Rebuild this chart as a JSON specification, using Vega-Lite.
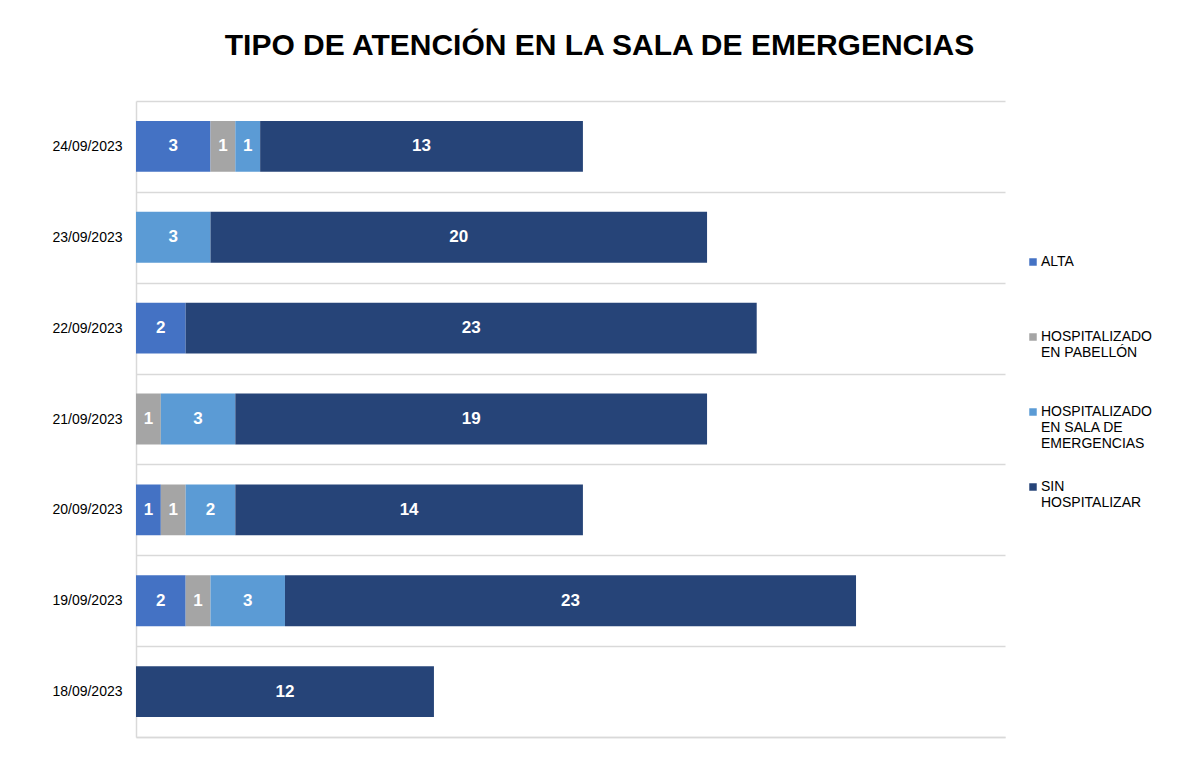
{
  "$schema": "https://vega.github.io/schema/vega-lite/v6.json",
  "width": 869,
  "height": 636,
  "autosize": {"type": "none"},
  "padding": {"left": 136, "top": 101, "right": 178, "bottom": 23},
  "background": "white",
  "title": {
    "text": "TIPO DE ATENCIÓN EN LA SALA DE EMERGENCIAS",
    "font": "Liberation Sans",
    "fontSize": 30,
    "fontWeight": "bold",
    "color": "#000000",
    "anchor": "middle",
    "dx": 29,
    "offset": 33
  },
  "data": {
    "values": [
      {"fecha": "24/09/2023", "tipo": "ALTA", "n": 3},
      {"fecha": "24/09/2023", "tipo": "HOSPITALIZADO EN PABELLÓN", "n": 1},
      {"fecha": "24/09/2023", "tipo": "HOSPITALIZADO EN SALA DE EMERGENCIAS", "n": 1},
      {"fecha": "24/09/2023", "tipo": "SIN HOSPITALIZAR", "n": 13},
      {"fecha": "23/09/2023", "tipo": "HOSPITALIZADO EN SALA DE EMERGENCIAS", "n": 3},
      {"fecha": "23/09/2023", "tipo": "SIN HOSPITALIZAR", "n": 20},
      {"fecha": "22/09/2023", "tipo": "ALTA", "n": 2},
      {"fecha": "22/09/2023", "tipo": "SIN HOSPITALIZAR", "n": 23},
      {"fecha": "21/09/2023", "tipo": "HOSPITALIZADO EN PABELLÓN", "n": 1},
      {"fecha": "21/09/2023", "tipo": "HOSPITALIZADO EN SALA DE EMERGENCIAS", "n": 3},
      {"fecha": "21/09/2023", "tipo": "SIN HOSPITALIZAR", "n": 19},
      {"fecha": "20/09/2023", "tipo": "ALTA", "n": 1},
      {"fecha": "20/09/2023", "tipo": "HOSPITALIZADO EN PABELLÓN", "n": 1},
      {"fecha": "20/09/2023", "tipo": "HOSPITALIZADO EN SALA DE EMERGENCIAS", "n": 2},
      {"fecha": "20/09/2023", "tipo": "SIN HOSPITALIZAR", "n": 14},
      {"fecha": "19/09/2023", "tipo": "ALTA", "n": 2},
      {"fecha": "19/09/2023", "tipo": "HOSPITALIZADO EN PABELLÓN", "n": 1},
      {"fecha": "19/09/2023", "tipo": "HOSPITALIZADO EN SALA DE EMERGENCIAS", "n": 3},
      {"fecha": "19/09/2023", "tipo": "SIN HOSPITALIZAR", "n": 23},
      {"fecha": "18/09/2023", "tipo": "SIN HOSPITALIZAR", "n": 12}
    ]
  },
  "encoding": {
    "y": {
      "field": "fecha",
      "type": "nominal",
      "sort": ["24/09/2023", "23/09/2023", "22/09/2023", "21/09/2023", "20/09/2023", "19/09/2023", "18/09/2023"],
      "title": null,
      "scale": {"paddingInner": 0, "paddingOuter": 0},
      "axis": {
        "domainColor": "#d9d9d9",
        "domainWidth": 1.5,
        "ticks": false,
        "tickSize": 0,
        "grid": true,
        "gridColor": "#d9d9d9",
        "gridWidth": 1.5,
        "tickBand": "extent",
        "labelFont": "Liberation Sans",
        "labelFontSize": 14,
        "labelColor": "#000000",
        "labelPadding": 14
      }
    }
  },
  "layer": [
    {
      "mark": {"type": "bar", "height": {"band": 0.56}},
      "encoding": {
        "x": {
          "field": "n",
          "type": "quantitative",
          "stack": "zero",
          "scale": {"domain": [0, 35], "nice": false},
          "axis": {"labels": false, "ticks": false, "grid": false, "domain": true, "domainColor": "#d9d9d9", "domainWidth": 1.5, "title": null}
        },
        "order": {"field": "tipo", "sort": "ascending"},
        "color": {
          "field": "tipo",
          "type": "nominal",
          "scale": {
            "domain": ["ALTA", "HOSPITALIZADO EN PABELLÓN", "HOSPITALIZADO EN SALA DE EMERGENCIAS", "SIN HOSPITALIZAR"],
            "range": ["#4472C4", "#A5A5A5", "#5B9BD5", "#264478"]
          },
          "legend": {
            "orient": "none",
            "legendX": 890,
            "legendY": 154,
            "title": null,
            "padding": 0,
            "symbolType": "square",
            "symbolSize": 56,
            "symbolStrokeWidth": 0,
            "labelFont": "Liberation Sans",
            "labelFontSize": 14,
            "labelColor": "#000000",
            "labelLineHeight": 16.5,
            "labelBaseline": "middle",
            "labelOffset": 1,
            "labelLimit": 0,
            "rowPadding": 29,
            "labelExpr": "datum.label == 'ALTA' ? ['ALTA', '', ''] : datum.label == 'HOSPITALIZADO EN PABELLÓN' ? ['HOSPITALIZADO', 'EN PABELLÓN', ''] : datum.label == 'HOSPITALIZADO EN SALA DE EMERGENCIAS' ? ['HOSPITALIZADO', 'EN SALA DE', 'EMERGENCIAS'] : ['SIN', 'HOSPITALIZAR', '']"
          }
        }
      }
    },
    {
      "mark": {"type": "text", "color": "white", "font": "Liberation Sans", "fontSize": 17, "fontWeight": "bold"},
      "encoding": {
        "x": {"field": "n", "type": "quantitative", "stack": "zero", "bandPosition": 0.5},
        "detail": {"field": "tipo"},
        "order": {"field": "tipo", "sort": "ascending"},
        "text": {"field": "n", "type": "quantitative"}
      }
    }
  ],
  "config": {"view": {"stroke": null}}
}
